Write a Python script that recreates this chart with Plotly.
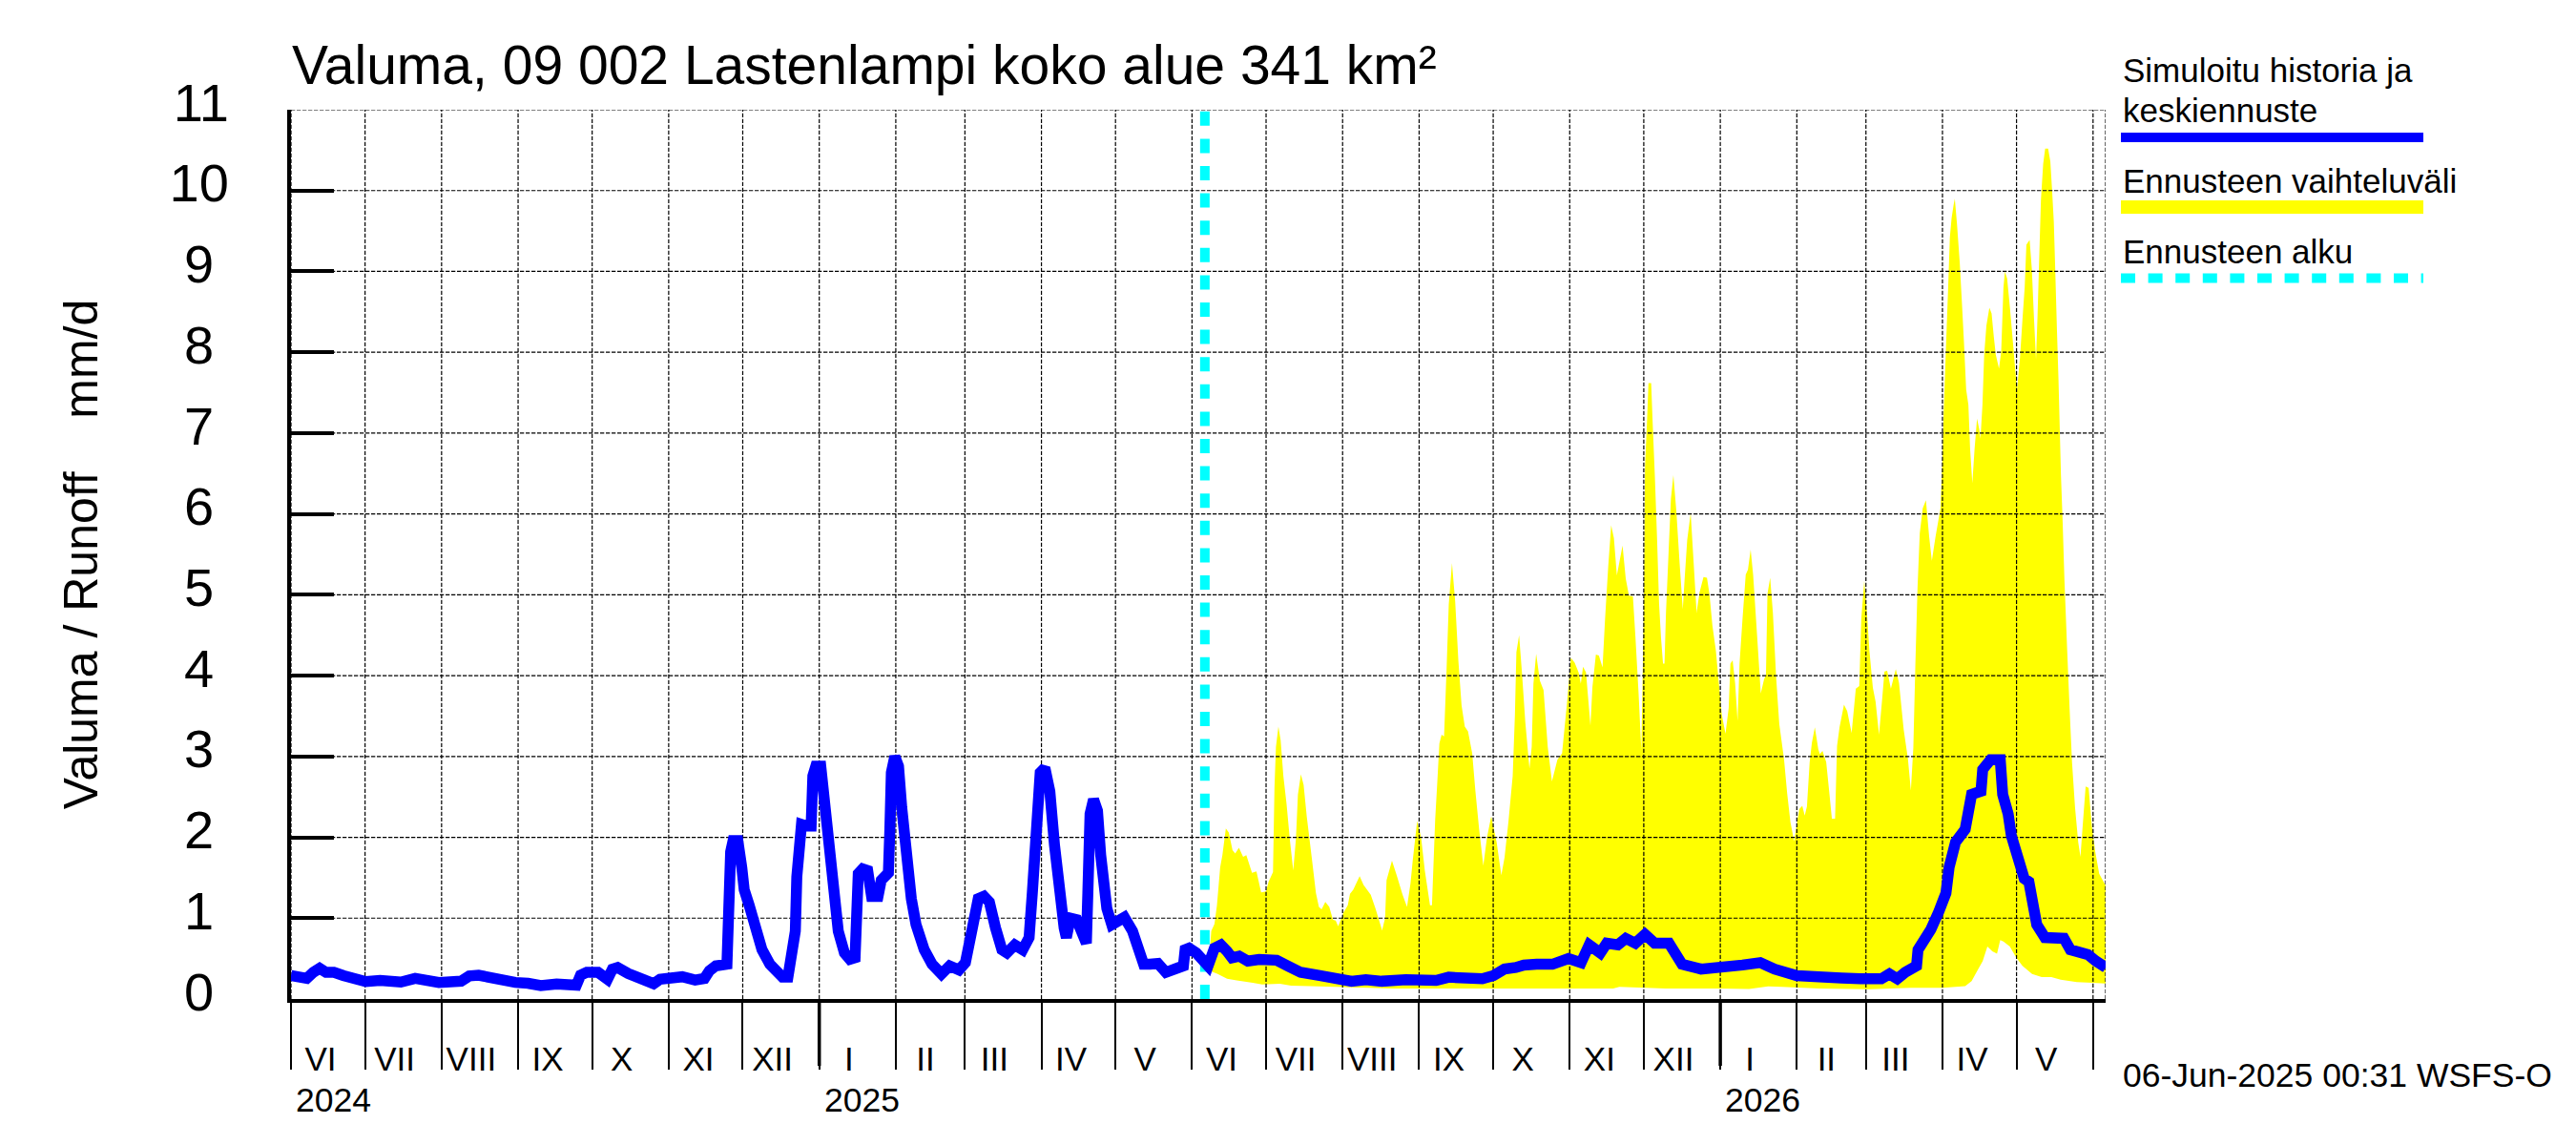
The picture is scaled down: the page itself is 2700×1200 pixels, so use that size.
import pandas as pd
import plotly.graph_objects as go

START = pd.Timestamp("2024-06-01")
END_DAY = 735.1
FORECAST_DAY = 370.2

# simulated history + mean forecast, days since START / mm/d
mean_days = [0, 3.2, 6.4, 9, 11.6, 14.2, 17.4, 21.3, 25.8, 30.3, 36.1, 44.5, 50.3, 54.8, 59.9, 68.9, 72.2, 76, 79.3, 82.5,
             85.7, 90.9, 96, 101.2, 107.6, 115.6, 117.3, 119.8, 124.4, 128.2, 130.2, 132.3, 136.6, 141.1, 146.9, 149.5,
             154.6, 158.5, 163.7, 167.5, 169.5, 172.1, 176.6, 177.2, 178.1, 179.1, 181, 182.6, 183.6, 185.6, 188.2,
             190.8, 194, 199.1, 201.3, 202.3, 204.3, 204.9, 206.8, 208.8, 210.7, 211.4, 212.6, 214.6, 215.9, 217.1,
             219.1, 221.7, 224.2, 226.4, 228.5, 229, 229.8, 231.6, 233.6, 235.2, 237.8, 239.1, 242, 242.6, 243.2,
             244.6, 246.1, 247.4, 249.4, 251.3, 253.2, 256.5, 259.7, 263.5, 266.8, 270.6, 273.2, 275.1, 277, 278.4,
             280.7, 282.9, 285.4, 288, 290, 293.2, 296.4, 299, 300.3, 301.6, 303.5, 305.4, 307.4, 309.3, 311.2, 313.2,
             314.1, 315.7, 318.3, 320.9, 322.2, 322.8, 323.7, 325.1, 326.7, 328, 329.3, 330.5, 332.5, 335.1, 337.6,
             340.9, 342.8, 345.4, 348, 351.2, 354.4, 357, 361.5, 362.2, 363.8, 366.7, 370.5, 371.5, 374.1, 376.7,
             379.2, 381.2, 384.1, 387.6, 392.2, 395.4, 399.3, 403.8, 409, 416.7, 423.2, 429.6, 435.4, 441.9, 451.6,
             463.9, 469, 477.4, 482.6, 487.1, 491.6, 496.2, 499.4, 504.6, 511, 517.5, 522.6, 525.9, 530.4, 533, 537.5,
             540.7, 544.6, 548.5, 552.4, 558.2, 563.5, 571.2, 579, 588, 595.2, 601, 610, 616.5, 628.1, 635.8, 644.2,
             647.5, 650.7, 653.9, 658.5, 659.1, 661.7, 664.3, 667.5, 670.4, 671.7, 674.3, 678.2, 680.8, 684.6, 685.3,
             688.5, 692.4, 693.4, 695.6, 696.9, 699.5, 702.1, 704, 705.3, 707.2, 710.5, 713.7, 718.2, 720.8, 723.4,
             727.9, 731.1, 735.2]
mean_vals = [.29, .28, .255, .33, .38, .33, .33, .29, .235, .215, .23, .21, .255, .235, .205, .22, .285, .295, .275, .235,
             .245, .205, .195, .165, .185, .17, .295, .33, .33, .245, .37, .39, .315, .245, .19, .245,
             .255, .275, .235, .255, .35, .41, .43, 1.16, 1.82, 1.96, 1.96, 1.63, 1.35, 1.16, .84,
             .61, .43, .27, .27, .57, .84, 1.51, 2.16, 2.14, 2.14, 2.76, 2.88, 2.88, 2.49, 1.9,
             1.31, .84, .57, .49, .51, .92, 1.55, 1.61, 1.59, 1.27, 1.27, 1.47, 1.56, 2.1, 2.8,
             3.0, 2.88, 2.37, 1.71, 1.24, .92, .61, .43, .31, .41, .36, .45, .76, .96, 1.24,
             1.27, 1.2, .88, .61, .57, .67, .61, .76, 1.31, 2.1, 2.8, 2.86, 2.57, 1.9, 1.31, .88,
             .76, 1.0, .98, .73, .69, 1.31, 2.29, 2.47, 2.33, 1.78, 1.39, 1.12, .92, .96, 1.01,
             .84, .61, .43, .43, .44, .33, .37, .41, .61, .63, .57, .44, .41, .63, .67,
             .59, .51, .53, .47, .49, .47, .48, .41, .33, .29, .25, .22, .24, .22, .24,
             .23, .27, .25, .25, .29, .37, .39, .42, .43, .43, .5, .45, .67, .57, .69, .67,
             .75, .69, .8, .69, .69, .43, .37, .38, .42, .45, .37, .29, .29, .26, .25, .25,
             .31, .25, .33, .41, .61, .71, .86, 1.08, 1.31, 1.63, 1.94, 2.1, 2.53, 2.57, 2.84,
             2.96, 2.96, 2.53, 2.29, 2.02, 1.71, 1.49, 1.45, 1.12, .92, .76, .75, .75, .61, .58,
             .55, .47, .39]

# forecast range, upper edge
upper_days = [372, 372.8, 374.1, 375.1, 376.4, 377.3, 378.7, 379.9, 381.4, 382.5, 384, 385.7, 387, 389.3, 391.1, 393, 395,
              396, 397.8, 398.4, 399, 400, 400.9, 402, 403.3, 404.6, 406, 407.1, 407.9, 409.1, 410.2, 411.5, 413.5, 415.2,
              416.4, 417.5, 419, 420.6, 422.1, 423.2, 424.2, 426.4, 428.1, 429, 430.3, 432.9, 434.5, 437.4, 439.3, 442,
              443.2, 443.8, 446, 447.9, 450.3, 452.1, 453.5, 454.4, 456.2, 457.8, 459.3, 461.4, 462.2, 463.5, 464.3, 465.2,
              466.1, 467.1, 468.1, 469, 470.3, 471.6, 472.9, 474.2, 475.5, 476.8, 478.5, 479.8, 481.3, 483, 484.5, 486.2,
              488.4, 490.3, 491.6, 493.2, 494.9, 495.8, 496.4, 497.5, 498.7, 500, 501.7, 502.6, 503.3, 504.4, 505.9, 507.4,
              509.1, 510.8, 513, 514.9, 516.8, 518.5, 520, 521.6, 522.5, 523.4, 524.6, 526.4, 527.2, 528.6, 529.8, 531.3,
              532.3, 533.6, 534.8, 535.9, 537.1, 539.4, 540.7, 542, 543.6, 544.6, 545.9, 547, 547.5, 548, 548.5, 549.3,
              549.9, 551, 551.6, 552.5, 553.4, 554.2, 555, 555.8, 556.4, 557, 558.1, 559, 560, 561.2, 562.5, 563.8, 564.5,
              565.6, 567, 568.2, 569.4, 570.6, 572.2, 573.6, 574.6, 575.8, 577.2, 578.4, 579.6, 581.1, 582.4, 583.1, 584,
              585, 586, 586.8, 588, 589.3, 590.2, 591.3, 592.3, 593.9, 595.4, 596.7, 597.5, 598.1, 599.2, 600.3, 601.6,
              602.9, 604.8, 606.1, 607.4, 608.9, 611, 612.2, 613.2, 614.1, 615.2, 616.1, 617.3, 618.7, 619.3, 620.4, 621.9,
              623.2, 624.2, 625.5, 626.3, 627.3, 629.1, 630.4, 632.2, 633.9, 635.3, 636.1, 637.3, 638.4, 639.4, 640.8,
              641.9, 643.3, 644.6, 645.5, 646.6, 648.1, 650.1, 651.4, 653.3, 655, 656.2, 657.2, 658, 658.9, 659.8, 661,
              662.3, 663.6, 664.7, 666.2, 668.2, 669, 669.5, 670.4, 671.3, 672, 672.7, 673.5, 674, 674.9, 676, 676.9,
              677.7, 678.6, 679.5, 680.2, 681.1, 682, 683, 683.9, 684.4, 685.2, 685.9, 686.8, 688, 688.9, 689.8, 690.6,
              691.9, 692.8, 693.7, 694.3, 695.2, 696.3, 697.3, 698.3, 699.2, 700.4, 701.4, 702.3, 703, 704.3, 705.2, 706.1,
              706.9, 707.5, 708.1, 708.9, 709.8, 710.6, 711.8, 712.7, 713.4, 714.1, 714.6, 715.4, 716, 716.5, 717, 717.7,
              718.4, 719.5, 720.5, 721.5, 722.7, 724, 724.9, 725.7, 727, 728.2, 729.5, 730.9, 732.5, 735.3]
upper_vals = [.5, .84, .93, 1.16, 1.63, 1.78, 2.11, 2.06, 1.84, 1.8, 1.87, 1.76, 1.78, 1.56, 1.58, 1.32, 1.33,
              1.45, 1.57, 2.61, 3.12, 3.37, 3.2, 2.76, 2.41, 1.98, 1.59, 1.98, 2.53, 2.78, 2.65, 2.25, 1.75, 1.31,
              1.14, 1.11, 1.2, 1.14, .98, .97, .9, 1.07, 1.16, 1.3, 1.35, 1.52, 1.41, 1.29, 1.12, .85,
              1.0, 1.47, 1.71, 1.53, 1.29, 1.14, 1.43, 1.71, 2.2, 2.0, 1.59, 1.16, 1.16, 2.22, 2.65, 3.16,
              3.27, 3.25, 4.06, 4.88, 5.39, 4.92, 4.18, 3.63, 3.37, 3.31, 3.04, 2.57, 2.1, 1.65, 2.0, 2.26,
              1.94, 1.53, 1.75, 2.2, 2.76, 3.51, 4.29, 4.5, 4.02, 3.43, 2.85, 3.12, 3.9, 4.27, 3.94, 3.82,
              3.12, 2.69, 2.96, 3.04, 3.63, 4.22, 4.16, 4.04, 3.9, 4.11, 4.04, 3.38, 3.86, 4.26, 4.25, 4.1,
              4.69, 5.35, 5.86, 5.7, 5.24, 5.61, 5.2, 4.99, 4.98, 4.49, 3.78, 3.08, 3.9, 4.82, 6.58, 7.13,
              7.62, 7.62, 7.13, 6.46, 5.68, 4.89, 4.46, 4.15, 4.15, 4.78, 5.56, 6.19, 6.48, 6.03, 5.4, 4.82, 5.17,
              5.68, 6.01, 5.4, 4.78, 5.03, 5.22, 5.21, 5.01, 4.62, 4.31, 3.91, 3.52, 3.28, 3.6, 4.15, 4.19,
              3.91, 3.44, 4.15, 4.7, 5.25, 5.31, 5.56, 5.25, 4.5, 3.78, 3.95, 4.01, 5.01, 5.21, 4.78, 3.99,
              3.4, 2.97, 2.54, 2.19, 1.95, 2.35, 2.39, 2.27, 2.38, 2.93, 3.17, 3.36, 3.09, 3.03, 3.07, 2.93,
              2.54, 2.23, 2.23, 3.13, 3.36, 3.64, 3.56, 3.29, 3.84, 3.87, 4.7, 5.17, 4.78, 4.31, 3.85,
              3.68, 3.27, 3.72, 4.05, 4.06, 3.84, 4.08, 3.91, 3.33, 2.97, 2.58, 3.11, 4.11, 5.09, 5.76, 6.07,
              6.17, 5.72, 5.42, 5.72, 6.07, 6.68, 7.27, 8.05, 8.8, 9.42, 9.66, 9.82, 9.9, 9.58, 9.11, 8.6,
              8.13, 7.54, 7.35, 6.8, 6.38, 6.8, 7.18, 7.05, 6.93, 7.35, 7.97, 8.33, 8.55, 8.48, 8.19, 7.97,
              7.8, 8.01, 8.8, 9.0, 8.91, 8.56, 8.21, 7.85, 7.54, 7.93, 8.4, 8.8, 9.33, 9.39, 9.03, 8.4,
              7.91, 8.44, 9.07, 9.89, 10.33, 10.52, 10.52, 10.36, 10.01, 9.62, 9.11, 8.25, 7.66, 7.07, 6.48, 5.89,
              5.19, 4.33, 3.59, 2.92, 2.37, 1.94, 1.76, 2.1, 2.63, 2.61, 2.14, 1.82, 1.55, 1.39]

# forecast range, lower edge
lower_days = [372, 375.4, 379.2, 383.1, 389.6, 393.4, 400.6, 405.1, 412.9, 446.4, 485.2, 535.6, 538.1, 556.8, 579, 590.6,
              598.4, 604, 619, 639.4, 656.2, 669.1, 678.2, 680.8, 683.3, 685.3, 687.2, 689.2, 691.1, 692.4, 693.7, 696.3,
              698.9, 701.4, 705.3, 709.2, 713.1, 716.9, 723.4, 729.8, 735.3]
lower_vals = [.35, .31, .25, .23, .2, .18, .19, .165, .16, .13, .13, .13, .15, .13, .13, .125,
              .157, .15, .13, .12, .14, .14, .16, .22, .36, .47, .65, .59, .56, .73, .71, .65,
              .51, .41, .31, .27, .27, .24, .21, .2, .19]

month_starts = pd.date_range("2024-06-01", "2026-06-01", freq="MS")
year_starts = ["2025-01-01", "2026-01-01"]
month_names = ["VI", "VII", "VIII", "IX", "X", "XI", "XII", "I", "II", "III", "IV", "V"] * 2
year_labels = ["2024", "2025", "2026"]
y_ticks = list(range(0, 12))


def to_dates(days):
    return START + pd.to_timedelta(days, unit="D")


def px(x):
    return (x - 305) / 1902.0


def py(y):
    return (1047 - y) / 932.0


end_date = START + pd.Timedelta(days=END_DAY)
label_pos = month_starts[:-1] + pd.Timedelta(days=12)

fig = go.Figure()

fig.add_trace(go.Scatter(
    x=list(to_dates(upper_days)) + list(to_dates(lower_days))[::-1],
    y=upper_vals + lower_vals[::-1],
    fill="toself", fillcolor="#ffff00", mode="none", showlegend=False,
))

# grid has to lie over the yellow band, so it is drawn as traces
grid_x, grid_y = [], []
for d in list(month_starts) + [end_date]:
    grid_x += [d, d, None]
    grid_y += [0, 11, None]
for v in y_ticks[1:]:
    grid_x += [START, end_date, None]
    grid_y += [v, v, None]
fig.add_trace(go.Scatter(x=grid_x, y=grid_y, mode="lines", showlegend=False,
                         line=dict(color="black", width=1.2, dash="4.3px,1.7px")))

fcast = START + pd.Timedelta(days=FORECAST_DAY)
fig.add_trace(go.Scatter(x=[fcast, fcast], y=[0, 11], mode="lines", showlegend=False,
                         line=dict(color="#00ffff", width=10, dash="15px,13.6px")))

fig.add_trace(go.Scatter(x=to_dates(mean_days), y=mean_vals, mode="lines", showlegend=False,
                         line=dict(color="#0000ff", width=11.5)))

FONT = "Liberation Sans"
fig.update_layout(
    width=2700, height=1200,
    margin=dict(l=305, r=493, t=115, b=153, autoexpand=False),
    paper_bgcolor="white", plot_bgcolor="white",
    font=dict(family=FONT, color="black"),
    title=dict(text="Valuma, 09 002 Lastenlampi koko alue 341 km²", x=306 / 2700, xanchor="left",
               y=1 - 68 / 1200, yanchor="middle", font=dict(size=57, family=FONT, color="black")),
    xaxis=dict(
        type="date", range=[START, end_date], showgrid=False, zeroline=False,
        showline=True, linecolor="black", linewidth=4,
        tickmode="array", tickvals=label_pos, ticktext=month_names, ticks="",
        tickfont=dict(size=35), ticklabelstandoff=29,
        minor=dict(tickmode="array", tickvals=month_starts, ticks="outside", ticklen=70,
                   tickwidth=1.5, tickcolor="black", showgrid=False),
    ),
    yaxis=dict(
        range=[0, 11], showgrid=False, zeroline=False,
        showline=True, linecolor="black", linewidth=4,
        tickmode="array", tickvals=y_ticks,
        ticktext=[f"{v}\u00a0" if v < 10 else str(v) for v in y_ticks],
        ticks="inside", ticklen=45, tickwidth=4, tickcolor="black",
        tickfont=dict(size=56), ticklabelstandoff=50, ticklabelshift=-8,
        title=dict(text="Valuma / Runoff\u00a0\u00a0\u00a0\u00a0mm/d", font=dict(size=50), standoff=60),
    ),
)

for d in year_starts:
    fig.add_shape(type="line", xref="x", yref="paper", x0=d, x1=d, y0=0, y1=-70 / 932,
                  line=dict(color="black", width=3.5))

for label, d in zip(year_labels, ["2024-06-01"] + year_starts):
    fig.add_annotation(text=label, x=d, xref="x", y=py(1153), yref="paper", xanchor="left", yanchor="middle",
                       xshift=3, showarrow=False, font=dict(size=35.5))

# legend text above its key line, as in the original layout
legend_text = [("Simuloitu historia ja", 73), ("keskiennuste", 115), ("Ennusteen vaihteluväli", 189), ("Ennusteen alku", 263)]
for text, y in legend_text:
    fig.add_annotation(text=text, x=px(2223), xref="paper", y=py(y), yref="paper", xanchor="left", yanchor="middle",
                       showarrow=False, font=dict(size=35))
legend_keys = [(144, "#0000ff", 10, "solid"), (217, "#ffff00", 14, "solid"), (291.5, "#00ffff", 10, "15px,13.6px")]
for y, color, w, dash in legend_keys:
    fig.add_shape(type="line", xref="paper", yref="paper", x0=px(2223), x1=px(2540), y0=py(y), y1=py(y),
                  line=dict(color=color, width=w, dash=dash))

fig.add_annotation(text="06-Jun-2025 00:31 WSFS-O", x=px(2223), xref="paper", y=py(1127), yref="paper",
                   xanchor="left", yanchor="middle", showarrow=False, font=dict(size=35.5))

# the page's default body margin would push the whole figure off by 8px
fig.write_html("out.html", post_script="document.body.style.margin='0';", config=dict(displayModeBar=False))
